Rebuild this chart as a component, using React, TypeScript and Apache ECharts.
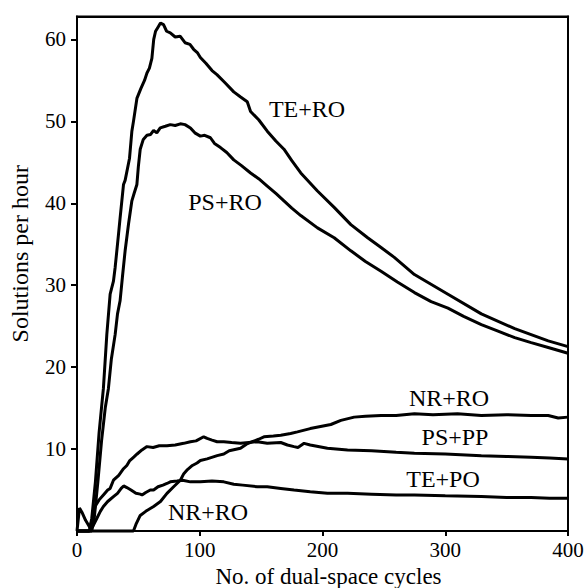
import React, { useEffect, useRef } from "react";
import * as echarts from "echarts";

// Series values: [No. of dual-space cycles, solutions per hour]
const teRo: [number, number][] = [
  [0, 0], [10, 0], [12, 1.5], [15, 6], [18, 12], [21.5, 17.4], [24.3, 24], [27, 28.9], [29.7, 30.5],
  [31.1, 32.2], [33.8, 36.2], [35.1, 38.2], [37.9, 42.3], [39.2, 42.8], [42.8, 45.5], [44.7, 48.8],
  [46, 50], [48.8, 52.8], [52, 54], [55, 55], [57, 55.9], [59, 56.5], [61, 57.7], [62.5, 60], [64, 61],
  [66, 61.5], [68, 62], [70.5, 61.8], [73, 61], [76, 60.8], [80, 60.3], [84, 60.4], [88, 59.6], [92, 59.4],
  [95, 58.8], [98, 58.4], [100.5, 57.8], [105, 57.1], [110, 56.2], [114, 55.7], [120, 54.8], [127.7, 53.6],
  [133, 53], [138.7, 52.4], [141.4, 51.2], [148, 50.2], [155, 48.8], [162, 47.6], [168.6, 46.6], [175, 45.2],
  [182.3, 43.7], [195.9, 41.5], [209.5, 39.5], [223.1, 37.4], [236.8, 35.8], [247.7, 34.6], [258.5, 33.4],
  [274.9, 31.3], [302.2, 28.9], [329.4, 26.5], [356.6, 24.7], [383.9, 23.2], [400, 22.5],
];

const psRo: [number, number][] = [
  [0, 0], [12, 0], [14, 1.5], [17, 6], [20, 11], [23, 15], [25.6, 17.4], [28, 21], [31.1, 24], [33, 26.5],
  [35.1, 28.1], [37, 31], [39.2, 34.2], [42, 37.5], [44.7, 40.3], [46.5, 41.2], [48.8, 42.3], [50, 44.5],
  [51.5, 46.6], [54, 47.8], [57, 48.3], [60, 48.4], [62.4, 48.9], [65, 48.6], [67.8, 49.2], [72, 49.4],
  [76, 49.6], [80, 49.5], [84.2, 49.7], [88, 49.6], [92.4, 49.2], [96, 48.6], [100.5, 48.2], [104, 48.3],
  [108.7, 48], [112, 47.3], [116.9, 46.8], [122, 46.2], [127.7, 45.3], [134, 44.6], [141.4, 43.7], [148, 43],
  [155, 42.1], [162, 41.2], [168.6, 40.3], [175, 39.4], [182.3, 38.5], [195.9, 37], [209.5, 35.8],
  [223.1, 34.2], [235, 32.9], [247.7, 31.7], [261, 30.4], [274.9, 29.1], [288.5, 28], [302.2, 27.2],
  [315, 26.2], [329.4, 25.2], [343, 24.4], [356.6, 23.6], [370, 23], [383.9, 22.4], [400, 21.7],
];

const nrRo: [number, number][] = [
  [0, 0], [46, 0], [48, 0.8], [51.5, 1.9], [56, 2.4], [62.4, 3], [68, 3.6], [73.3, 4.6], [78.7, 5.4],
  [84.2, 6.2], [87, 7], [90, 7.5], [94, 8], [97.8, 8.3], [100.5, 8.6], [106, 8.8], [114.2, 9.2],
  [119.6, 9.4], [124, 9.8], [133.2, 10.1], [138, 10.6], [142.8, 10.9], [148, 11.2], [152.3, 11.5],
  [160, 11.6], [166, 11.7], [174, 11.9], [179.6, 12.1], [190, 12.5], [206.8, 13], [215, 13.5],
  [225.8, 13.9], [235, 14], [247.7, 14.1], [260, 14.1], [274.9, 14.3], [290, 14.2], [310, 14.3],
  [329.4, 14.1], [350, 14.2], [370, 14.1], [383.9, 14.1], [392, 13.8], [400, 13.9],
];

const psPp: [number, number][] = [
  [0, 0], [2, 2.8], [4, 2.3], [7, 1.3], [10.6, 0.4], [13, 1.8], [14.7, 3], [18, 3.8], [21.5, 4.4],
  [25, 5], [27, 5.2], [29.7, 6.2], [34, 6.8], [37.9, 7.6], [40.6, 8], [43, 8.6], [46, 9], [49, 9.4],
  [52.9, 9.9], [57, 10.3], [62, 10.2], [67, 10.4], [73.3, 10.4], [80, 10.5], [86.9, 10.7], [92.4, 10.9],
  [97, 11], [103.2, 11.5], [106, 11.3], [110, 11.1], [114.2, 10.9], [119.6, 10.9], [126, 10.8],
  [133.2, 10.7], [140, 10.8], [146.9, 10.9], [155, 10.7], [166, 10.8], [171.4, 10.5], [176.8, 10.3],
  [180, 10.2], [185, 10.7], [190, 10.5], [204, 10.1], [220.4, 9.9], [240, 9.8], [260, 9.6],
  [274.9, 9.5], [300, 9.4], [329.4, 9.2], [350, 9.1], [370, 9], [385, 8.9], [400, 8.8],
];

const tePo: [number, number][] = [
  [0, 0], [10, 0], [13, 0.6], [16, 1.5], [19, 2.4], [21.5, 3], [25, 3.6], [29.7, 4.2], [33, 4.6],
  [36, 5.2], [38, 5.5], [40.6, 5.3], [44, 5], [48, 4.6], [51.5, 4.5], [53, 4.4], [56, 4.7], [59.7, 5],
  [62.4, 5], [66, 5.4], [70, 5.6], [73.3, 5.8], [76, 6], [81.5, 6.1], [86, 6.2], [92.4, 6], [100.5, 6],
  [110, 6.1], [119.6, 6], [127.7, 5.7], [135, 5.6], [146.9, 5.4], [155, 5.4], [166, 5.2], [176.8, 5],
  [190, 4.8], [204, 4.6], [220.4, 4.6], [240, 4.5], [260, 4.4], [274.9, 4.4], [300, 4.3], [329.4, 4.2],
  [350, 4.1], [370, 4.1], [385, 4], [400, 4],
];

const yTicks = [10, 20, 30, 40, 50, 60];
const xTicks = [0, 100, 200, 300, 400];
const X_MAX = 400;
const Y_MAX = 62.8;

const FONT = "'Liberation Serif', 'Times New Roman', serif";

export default function App() {
  const ref = useRef<HTMLDivElement>(null);
  useEffect(() => {
    document.body.style.margin = "0";
    if (!ref.current) return;
    const chart = echarts.init(ref.current, undefined, { renderer: "svg" });
    const mk = (name: string, data: [number, number][]) => ({
      name,
      type: "line",
      data,
      symbol: "none",
      showSymbol: false,
      clip: false,
      lineStyle: { color: "#000", width: 3 },
      z: 3,
    });
    const label = (text: string, x: number, y: number) => ({
      type: "text",
      x,
      y,
      style: {
        text,
        fill: "#000",
        fontFamily: FONT,
        fontSize: 24,
        textAlign: "center",
        textVerticalAlign: "middle",
      },
      z: 10,
    });
    chart.setOption({
      animation: false,
      backgroundColor: "#fff",
      grid: {
        left: 77,
        right: 19,
        top: 16.5,
        bottom: 57,
        outerBoundsMode: "none",
        containLabel: false,
        show: true,
        borderColor: "#000",
        borderWidth: 2,
        backgroundColor: "transparent",
      },
      xAxis: [
        {
          type: "value",
          min: 0,
          max: X_MAX,
          interval: 100,
          name: "No. of dual-space cycles",
          nameLocation: "middle",
          nameGap: 30,
          nameTextStyle: { fontFamily: FONT, fontSize: 23, color: "#000", padding: [0, 0, 0, 12] },
          axisLine: { show: true, onZero: false, lineStyle: { color: "#000", width: 2 } },
          axisTick: { show: true, inside: false, length: 5, lineStyle: { color: "#000", width: 2 }, customValues: xTicks },
          axisLabel: { fontFamily: FONT, fontSize: 21, color: "#000", margin: 8, customValues: xTicks },
          splitLine: { show: false },
        },
        {
          type: "value",
          position: "top",
          min: 0,
          max: X_MAX,
          axisLine: { show: true, onZero: false, lineStyle: { color: "#000", width: 2 } },
          axisTick: { show: false },
          axisLabel: { show: false },
          splitLine: { show: false },
        },
      ],
      yAxis: [
        {
          type: "value",
          min: 0,
          max: Y_MAX,
          interval: 10,
          name: "Solutions per hour",
          nameLocation: "middle",
          nameGap: 45,
          nameTextStyle: { fontFamily: FONT, fontSize: 24, color: "#000", padding: [0, 0, 0, 40] },
          axisLine: { show: true, onZero: false, lineStyle: { color: "#000", width: 2 } },
          axisTick: { show: true, inside: false, length: 6, lineStyle: { color: "#000", width: 2 }, customValues: yTicks },
          axisLabel: { fontFamily: FONT, fontSize: 21, color: "#000", margin: 11, customValues: yTicks },
          splitLine: { show: false },
        },
        {
          type: "value",
          position: "right",
          min: 0,
          max: Y_MAX,
          axisLine: { show: true, onZero: false, lineStyle: { color: "#000", width: 2 } },
          axisTick: { show: false },
          axisLabel: { show: false },
          splitLine: { show: false },
        },
      ],
      series: [
        mk("TE+RO", teRo),
        mk("PS+RO", psRo),
        mk("NR+RO", nrRo),
        mk("PS+PP", psPp),
        mk("TE+PO", tePo),
      ],
      graphic: [
        label("TE+RO", 307, 109),
        label("PS+RO", 225, 202),
        label("NR+RO", 449, 398),
        label("PS+PP", 455, 437),
        label("TE+PO", 443, 479),
        label("NR+RO", 208, 512),
      ],
    });
    return () => chart.dispose();
  }, []);
  return <div ref={ref} style={{ width: 587, height: 588 }} />;
}
